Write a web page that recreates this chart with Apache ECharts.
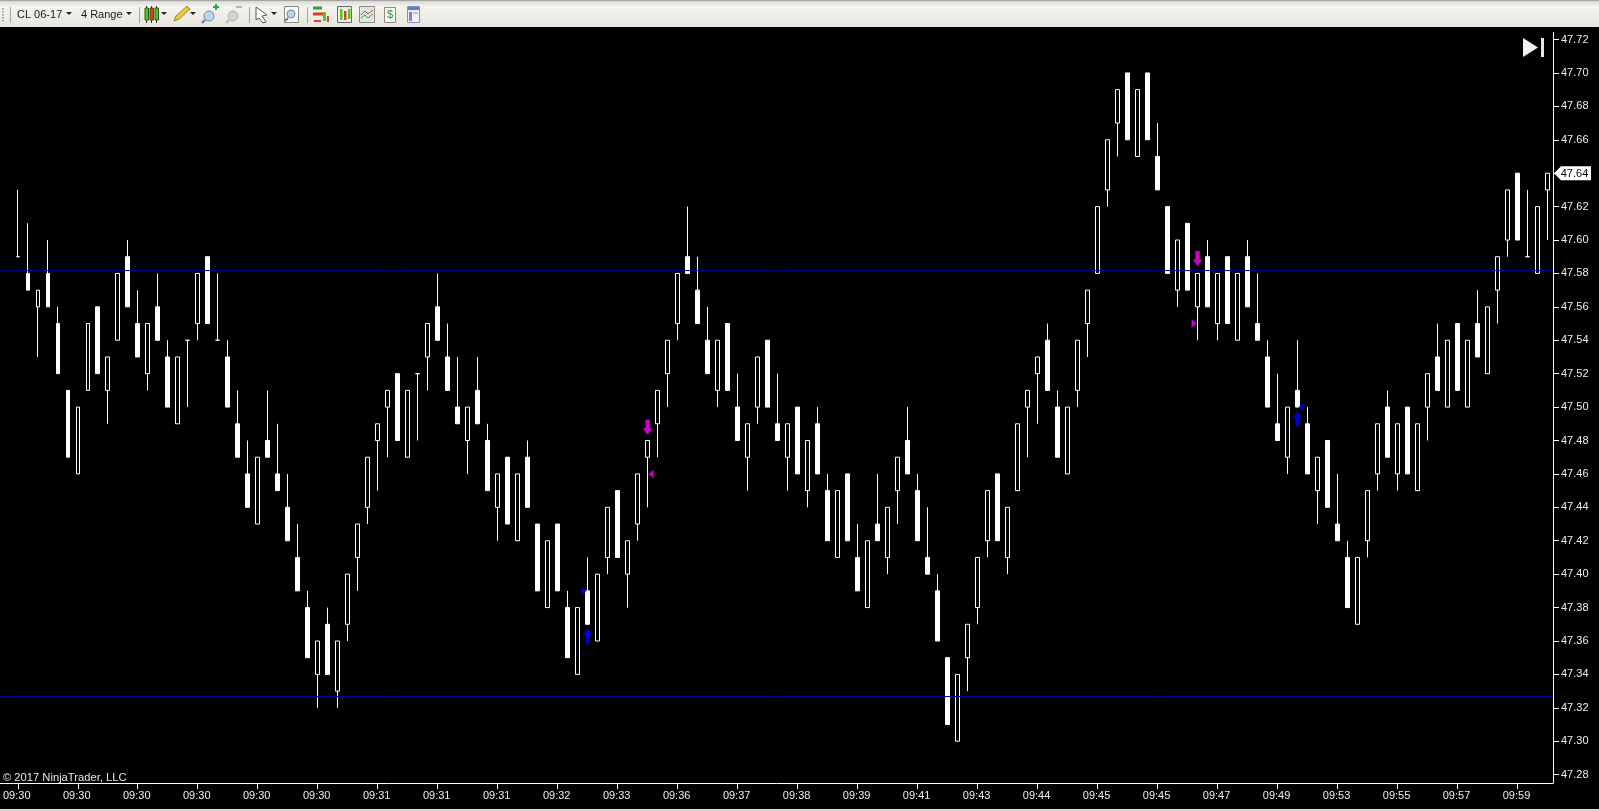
<!DOCTYPE html>
<html><head><meta charset="utf-8">
<style>html,body{margin:0;padding:0;background:#000;overflow:hidden}#c{width:1599px;height:811px}</style>
<script src="https://cdn.jsdelivr.net/npm/echarts@6/dist/echarts.min.js"></script>
</head><body><div id="c"></div>
<script>
const opens=[47.59,47.58,47.56,47.58,47.55,47.51,47.46,47.51,47.56,47.51,47.54,47.59,47.55,47.52,47.56,47.53,47.49,47.54,47.55,47.59,47.54,47.53,47.49,47.46,47.43,47.48,47.46,47.44,47.41,47.38,47.34,47.37,47.33,47.37,47.41,47.44,47.48,47.50,47.52,47.47,47.52,47.53,47.56,47.53,47.50,47.48,47.51,47.48,47.44,47.47,47.42,47.47,47.43,47.38,47.43,47.38,47.34,47.39,47.36,47.41,47.45,47.40,47.43,47.47,47.49,47.52,47.55,47.59,47.57,47.54,47.51,47.55,47.50,47.47,47.50,47.54,47.49,47.47,47.50,47.45,47.49,47.45,47.41,47.46,47.41,47.38,47.43,47.41,47.45,47.48,47.45,47.41,47.39,47.35,47.30,47.35,47.38,47.42,47.46,47.41,47.45,47.50,47.52,47.54,47.50,47.46,47.51,47.55,47.58,47.63,47.67,47.70,47.65,47.70,47.65,47.62,47.57,47.61,47.56,47.59,47.55,47.59,47.54,47.59,47.55,47.53,47.49,47.47,47.51,47.49,47.45,47.48,47.43,47.41,47.37,47.42,47.46,47.50,47.46,47.50,47.45,47.50,47.53,47.50,47.55,47.50,47.55,47.52,47.57,47.60,47.64,47.59,47.58,47.63];
const closes=[47.59,47.57,47.57,47.56,47.52,47.47,47.50,47.55,47.52,47.53,47.58,47.56,47.53,47.55,47.54,47.50,47.53,47.54,47.58,47.55,47.54,47.50,47.47,47.44,47.47,47.47,47.45,47.42,47.39,47.35,47.36,47.34,47.36,47.40,47.43,47.47,47.49,47.51,47.48,47.51,47.52,47.55,47.54,47.51,47.49,47.50,47.49,47.45,47.46,47.43,47.46,47.44,47.39,47.42,47.39,47.35,47.38,47.37,47.40,47.44,47.41,47.42,47.46,47.48,47.51,47.54,47.58,47.58,47.55,47.52,47.54,47.51,47.48,47.49,47.53,47.50,47.48,47.49,47.46,47.48,47.46,47.42,47.45,47.42,47.39,47.42,47.42,47.44,47.47,47.46,47.42,47.40,47.36,47.31,47.34,47.37,47.41,47.45,47.42,47.44,47.49,47.51,47.53,47.51,47.47,47.50,47.54,47.57,47.62,47.66,47.69,47.66,47.69,47.66,47.63,47.58,47.60,47.57,47.58,47.56,47.58,47.55,47.58,47.56,47.54,47.50,47.48,47.50,47.50,47.46,47.47,47.44,47.42,47.38,47.41,47.45,47.49,47.47,47.49,47.46,47.49,47.52,47.51,47.54,47.51,47.54,47.53,47.56,47.59,47.63,47.60,47.59,47.62,47.64];
const lows=[47.59,47.57,47.53,47.56,47.52,47.47,47.46,47.51,47.52,47.49,47.54,47.56,47.53,47.51,47.54,47.50,47.49,47.50,47.54,47.55,47.54,47.50,47.47,47.44,47.43,47.47,47.45,47.42,47.39,47.35,47.32,47.34,47.32,47.36,47.39,47.43,47.45,47.47,47.48,47.47,47.48,47.51,47.54,47.51,47.49,47.46,47.49,47.45,47.42,47.43,47.42,47.44,47.39,47.38,47.39,47.35,47.34,47.37,47.36,47.40,47.41,47.38,47.42,47.44,47.47,47.50,47.54,47.58,47.55,47.52,47.50,47.51,47.48,47.45,47.49,47.50,47.48,47.45,47.46,47.44,47.46,47.42,47.41,47.42,47.39,47.38,47.42,47.40,47.43,47.46,47.42,47.40,47.36,47.31,47.30,47.33,47.37,47.41,47.42,47.40,47.45,47.47,47.49,47.51,47.47,47.46,47.50,47.53,47.58,47.62,47.65,47.66,47.65,47.66,47.63,47.58,47.56,47.57,47.54,47.56,47.54,47.55,47.54,47.56,47.54,47.50,47.48,47.46,47.50,47.46,47.43,47.44,47.42,47.38,47.37,47.41,47.45,47.47,47.45,47.46,47.45,47.48,47.51,47.50,47.51,47.50,47.53,47.52,47.55,47.59,47.60,47.59,47.58,47.60];
const highs=[47.63,47.61,47.57,47.60,47.56,47.51,47.50,47.55,47.56,47.53,47.58,47.60,47.57,47.55,47.58,47.54,47.53,47.54,47.58,47.59,47.58,47.54,47.51,47.48,47.47,47.51,47.49,47.46,47.43,47.39,47.36,47.38,47.36,47.40,47.43,47.47,47.49,47.51,47.52,47.51,47.52,47.55,47.58,47.55,47.53,47.50,47.53,47.49,47.46,47.47,47.46,47.48,47.43,47.42,47.43,47.39,47.38,47.41,47.40,47.44,47.45,47.42,47.46,47.48,47.51,47.54,47.58,47.62,47.59,47.56,47.54,47.55,47.52,47.49,47.53,47.54,47.52,47.49,47.50,47.48,47.50,47.46,47.45,47.46,47.43,47.42,47.46,47.44,47.47,47.50,47.46,47.44,47.40,47.35,47.34,47.37,47.41,47.45,47.46,47.44,47.49,47.51,47.53,47.55,47.51,47.50,47.54,47.57,47.62,47.66,47.69,47.70,47.69,47.70,47.67,47.62,47.60,47.61,47.58,47.60,47.58,47.59,47.58,47.60,47.58,47.54,47.52,47.50,47.54,47.50,47.47,47.48,47.46,47.42,47.41,47.45,47.49,47.51,47.49,47.50,47.49,47.52,47.55,47.54,47.55,47.54,47.57,47.56,47.59,47.63,47.64,47.63,47.62,47.64];
const tickIndexes=[0,6,12,18,24,30,36,42,48,54,60,66,72,78,84,90,96,102,108,114,120,126,132,138,144,150];
const timeLabels=["09:30","09:30","09:30","09:30","09:30","09:30","09:31","09:31","09:31","09:32","09:33","09:36","09:37","09:38","09:39","09:41","09:43","09:44","09:45","09:45","09:47","09:49","09:53","09:55","09:57","09:59"];
const priceTicks=[47.28,47.30,47.32,47.34,47.36,47.38,47.40,47.42,47.44,47.46,47.48,47.50,47.52,47.54,47.56,47.58,47.60,47.62,47.64,47.66,47.68,47.70,47.72];
const levels=[47.582,47.327];
const lastPrice=47.64;
const downArrows=[[63,47.488],[118,47.589]];
const upArrows=[[57,47.363],[128,47.493]];
const magentaLeft=[[63,47.46]];
const magentaRight=[[118,47.55]];
const blueRight=[[57,47.39]];
const blueLeft=[[128,47.50]];

const FONT='"Liberation Sans",Arial,sans-serif';
const DARROW='path://M2.8,0 L7.2,0 L7.2,8 L10,8 L5,14 L0,8 L2.8,8 Z';
const UARROW='path://M5,0 L10,6 L7.2,6 L7.2,14 L2.8,14 L2.8,6 L0,6 Z';
const TRI_L='path://M0,5 L5,0 L5,10 Z';
const TRI_R='path://M5,5 L0,0 L0,10 Z';
const MAG='#ff00ff', BLU='#0000ff';
function mk(data,symbol,size,offset,color){return {type:'scatter',data,symbol,symbolSize:size,symbolOffset:offset,itemStyle:{color},silent:true,z:6,clip:false,animation:false};}

const candleData=opens.map((o,i)=>[i,o,closes[i],lows[i],highs[i]]);

// toolbar chrome
const g=[];
const R=(x,y,w,h,fill,stroke)=>g.push({type:'rect',silent:true,shape:{x,y,width:w,height:h},style:{fill:fill||'none',stroke:stroke||'none',lineWidth:1},z:20});
const L=(x1,y1,x2,y2,c,w)=>g.push({type:'line',silent:true,shape:{x1,y1,x2,y2},style:{stroke:c,lineWidth:w||1},z:20});
const P=(pts,fill,stroke)=>g.push({type:'polygon',silent:true,shape:{points:pts},style:{fill:fill||'none',stroke:stroke||'none',lineWidth:1},z:20});
const C=(cx,cy,r,fill,stroke)=>g.push({type:'circle',silent:true,shape:{cx,cy,r},style:{fill:fill||'none',stroke:stroke||'none',lineWidth:1},z:20});
const T=(x,y,text,color,size)=>g.push({type:'text',silent:true,x,y,style:{text,fill:color,font:(size||12)+'px '+FONT,textVerticalAlign:'middle',verticalAlign:'middle'},z:21});
const caret=x=>P([[x-3,12],[x+3,12],[x,15]],'#222');
g.push({type:'rect',silent:true,shape:{x:0,y:0,width:1599,height:27},z:19,style:{fill:{type:'linear',x:0,y:0,x2:0,y2:1,colorStops:[{offset:0,color:'#8e8e8a'},{offset:0.06,color:'#dededa'},{offset:0.25,color:'#f4f3ee'},{offset:1,color:'#e6e5df'}]}}});
for(let y=8;y<21;y+=3)R(2,y,2,1.5,'#a8a8a2');
[10,139,249,307].forEach(x=>L(x+.5,7,x+.5,23,'#a5a5a0'));
T(17,15,'CL 06-17','#1a1a1a',11);caret(69);
T(81,15,'4 Range','#1a1a1a',11);caret(129);
[[145,'#57c61c'],[150,'#d8402a'],[155,'#57c61c']].forEach(([x,c])=>{L(x+1.5,6,x+1.5,23,'#333');R(x,8,3.5,12,c,'#2b5a12');});
caret(164);
P([[174,21],[176,16],[187,6],[190,9],[179,19]],'#f1c83a','#a8801c');caret(193);
C(209,16,5,'#bcd6ee','#6f8ca8');L(205,20,202,23,'#777',2);L(213,7,219,7,'#1fae2e',2);L(216,4,216,10,'#1fae2e',2);
C(233,16,5,'#d2d2d0','#b4b4b0');L(229,20,226,23,'#b8b8b4',2);L(236,7,242,7,'#b4b4b0',2);
P([[256,7],[267,15],[262,16],[266,22],[263,23],[259,18],[256,20]],'#fff','#555');caret(274);
R(284.5,6.5,14,16,'#f8f8f6','#8a8a86');C(291,14,4,'#b9d4ec','#6f8ca8');L(288,18,285,21,'#777',2);
L(313,8,322,8,'#3e9e2c',3);L(313,14,323,14,'#d8402a',3);R(323,12,3,9,'#57c61c');R(327,16,2,6,'#d8402a');L(314,21,321,21,'#d8402a',2);
R(337.5,6.5,14,16,'#efeee8','#6a6a66');R(340,9,2.5,11,'#57c61c');R(344,11,2.5,9,'#d8402a');R(348,9,2.5,10,'#57c61c');
R(359.5,6.5,15,16,'#dfe3e3','#8a8a86');g.push({type:'polyline',silent:true,shape:{points:[[361,15],[365,11],[368,14],[373,10]]},style:{stroke:'#d8402a',fill:'none'},z:20});g.push({type:'polyline',silent:true,shape:{points:[[361,18],[365,15],[368,18],[373,14]]},style:{stroke:'#3e9e2c',fill:'none'},z:20});
R(384.5,7.5,11,15,'#fbfbf8','#8a8a86');T(387,15,'$','#1f8a2c',11);
R(407.5,6.5,12,16,'#eef0fa','#8a8ac0');R(408,7,11,3,'#5b7fd0');R(409,12,3,9,'#9b6fd8');R(413,12,5,2,'#bcc4e0');
// go-to-end button
P([[1523,38],[1523,57],[1538,47.5]],'#f2f2f2');R(1541,38,3,19,'#e8e8e8');
// price axis starts a little below the toolbar
R(1551,27,4,5,'#000');
// copyright
T(3,778,'© 2017 NinjaTrader, LLC','#e6e6e6',11.2);
// bottom window edge
R(0,809,1599,2,'#d6d6d0');

const chart=echarts.init(document.getElementById('c'));
chart.setOption({
 animation:false,backgroundColor:'#000',
 textStyle:{fontFamily:FONT},
 grid:{left:0,right:46,top:27,bottom:28,containLabel:false},
 xAxis:{type:'value',min:-1.75,max:153.55,splitLine:{show:false},
  axisLine:{show:true,onZero:false,lineStyle:{color:'#fff',width:1}},
  axisTick:{show:true,length:6,lineStyle:{color:'#fff',width:1},customValues:tickIndexes},
  axisLabel:{show:true,color:'#eeeeee',fontSize:11,fontFamily:FONT,margin:7,padding:[0,2,0,0],customValues:tickIndexes,
   formatter:v=>timeLabels[tickIndexes.indexOf(v)]||''}},
 yAxis:{type:'value',position:'right',min:47.275,max:47.7275,splitLine:{show:false},
  axisLine:{show:true,onZero:false,lineStyle:{color:'#fff',width:1}},
  axisTick:{show:true,length:6,lineStyle:{color:'#fff',width:1},customValues:priceTicks},
  axisLabel:{show:true,color:'#eeeeee',fontSize:11,fontFamily:FONT,margin:8,padding:[4,0,0,0],customValues:priceTicks,formatter:v=>v.toFixed(2)}},
 series:[
  {type:'candlestick',data:candleData,encode:{x:0,y:[1,2,3,4]},barWidth:4,silent:true,clip:false,z:3,
   itemStyle:{color:'#000',color0:'#fff',borderColor:'#fff',borderColor0:'#fff',borderColorDoji:'#fff',borderWidth:1},
   markLine:{silent:true,symbol:'none',precision:3,animation:false,label:{show:false},lineStyle:{color:'#00008c',width:1,type:'solid'},data:levels.map(v=>({yAxis:v}))},
   markPoint:{silent:true,animation:false,data:[{coord:[opens.length-1,lastPrice],value:lastPrice.toFixed(2),symbol:'path://M0,7 L7,0 L37,0 L37,14 L7,14 Z',symbolSize:[37,14],symbolOffset:[25,0],itemStyle:{color:'#fff'},label:{show:true,position:'inside',color:'#000',fontSize:11,fontFamily:FONT,offset:[2,1],formatter:'{c}'}}]}
  },
  mk(downArrows,DARROW,[10,15],[0,0],MAG),
  mk(upArrows,UARROW,[10,15],[0,0],BLU),
  mk(magentaLeft,TRI_L,[5,9],[3.5,0],MAG),
  mk(magentaRight,TRI_R,[5,9],[-3.5,0],MAG),
  mk(blueRight,TRI_R,[5,9],[-3.5,0],BLU),
  mk(blueLeft,TRI_L,[5,9],[3.5,0],BLU)
 ],
 graphic:g
});
</script></body></html>
